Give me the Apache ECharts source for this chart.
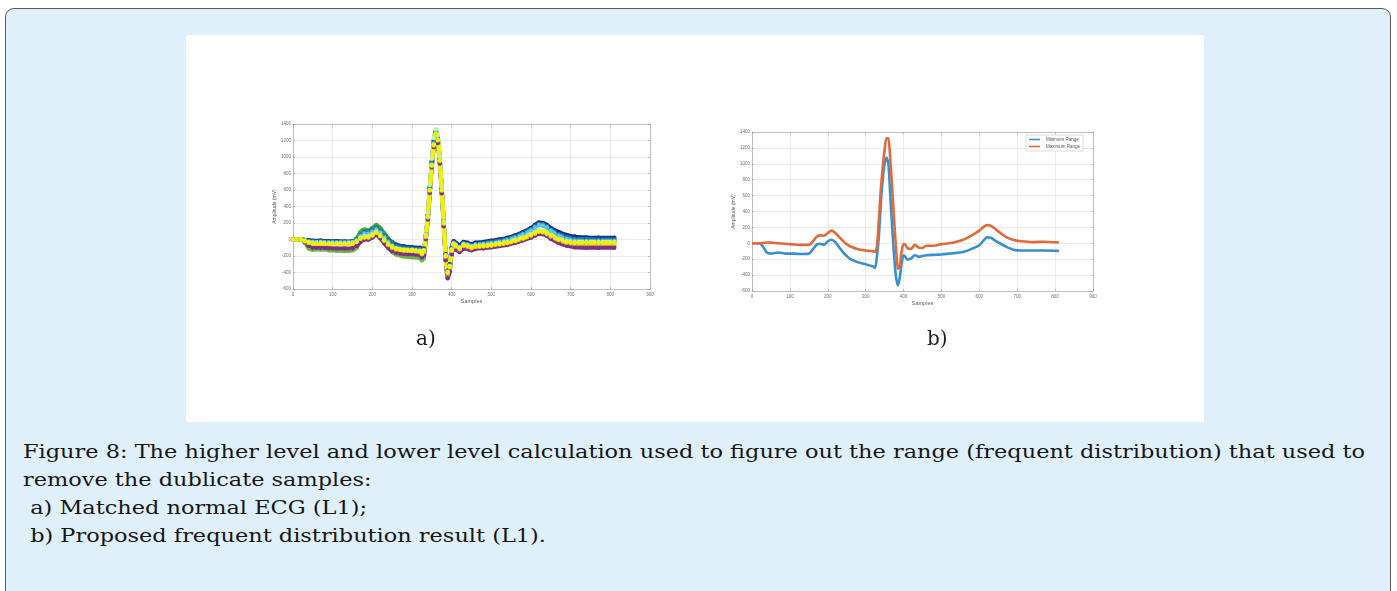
<!DOCTYPE html>
<html>
<head>
<meta charset="utf-8">
<script src="https://cdn.jsdelivr.net/npm/echarts@6/dist/echarts.min.js"></script>
<style>
  html, body { margin: 0; padding: 0; background: #fff; width: 1397px; height: 591px; overflow: hidden; }
  #frame { position: absolute; left: 5px; top: 8px; width: 1386px; height: 620px; background: #dff0fb;
           border: 1.5px solid #5c5c5c; border-radius: 9px; box-sizing: border-box; }
  #panel { position: absolute; left: 186px; top: 35px; width: 1018px; height: 387px; background: #fff; }
  #caption { position: absolute; left: 23px; top: 438px; font-family: "DejaVu Serif", serif; font-size: 18.5px;
             line-height: 28px; color: #161616; white-space: pre; transform-origin: 0 0; }
</style>
</head>
<body>
<div id="frame"></div>
<div id="panel"></div>
<div id="caption"><div id="cap1">Figure 8: The higher level and lower level calculation used to figure out the range (frequent distribution) that used to</div><div>remove the dublicate samples:</div><div> a) Matched normal ECG (L1);</div><div> b) Proposed frequent distribution result (L1).</div></div>
<script>
// Sample positions shared by every trace
const samples = [
  0, 20, 30, 40, 50, 70, 90, 110, 130, 150,
  160, 170, 180, 190, 200, 210, 220, 230, 240, 250,
  260, 280, 300, 320, 325, 330, 335, 340, 345, 350,
  355, 360, 365, 370, 375, 380, 385, 390, 395, 400,
  405, 410, 420, 430, 440, 450, 460, 480, 500, 520,
  540, 560, 580, 600, 610, 620, 630, 640, 650, 670,
  690, 710, 740, 770, 810
];

// a) matched normal ECG beats (mV)
const beatGreenLow = [
  0, 0, -40, -110, -125, -120, -130, -135, -140, -130,
  -100, -20, 10, 5, 30, 60, 20, -40, -100, -150,
  -180, -205, -215, -225, -250, -220, 0, 240, 560, 870,
  1120, 1250, 1180, 930, 570, 170, -230, -440, -360, -160,
  -90, -110, -140, -100, -110, -125, -110, -100, -90, -75,
  -60, -35, -5, 35, 60, 80, 75, 55, 25, -25,
  -60, -75, -80, -80, -80
];
const beatGreenHigh = [
  0, 0, -10, -25, -20, -15, -25, -30, -35, -25,
  10, 90, 120, 110, 140, 175, 140, 75, 15, -30,
  -60, -90, -105, -120, -160, -130, 40, 290, 620, 930,
  1180, 1300, 1230, 980, 620, 220, -180, -380, -310, -120,
  -40, -60, -90, -50, -60, -75, -60, -50, -40, -25,
  -5, 25, 65, 115, 150, 180, 175, 150, 110, 50,
  10, -10, -15, -15, -15
];
const beatPurple = [
  0, 0, -30, -80, -100, -100, -105, -110, -110, -105,
  -80, -30, 0, 0, 25, 55, 15, -45, -100, -140,
  -160, -175, -180, -190, -215, -190, 10, 250, 570, 880,
  1120, 1240, 1170, 920, 560, 160, -250, -470, -390, -180,
  -100, -120, -150, -110, -115, -130, -115, -105, -95, -80,
  -65, -40, -10, 25, 50, 70, 65, 45, 10, -40,
  -75, -95, -100, -100, -100
];
const beatNavy = [
  0, 0, -5, -10, -15, -15, -20, -20, -25, -20,
  0, 50, 90, 95, 115, 145, 110, 50, 0, -40,
  -65, -85, -95, -100, -130, -110, 60, 300, 640, 950,
  1200, 1310, 1230, 980, 620, 220, -180, -380, -300, -100,
  -20, -40, -70, -30, -40, -55, -40, -30, -15, 0,
  20, 50, 90, 140, 175, 205, 200, 175, 140, 90,
  55, 35, 25, 20, 20
];
const beatTeal = [
  0, 0, -5, -20, -25, -25, -30, -30, -30, -25,
  0, 60, 100, 100, 125, 150, 115, 55, 0, -45,
  -75, -100, -110, -115, -150, -120, 50, 290, 620, 930,
  1180, 1300, 1220, 970, 610, 210, -190, -390, -310, -110,
  -35, -55, -85, -45, -55, -70, -55, -45, -30, -15,
  5, 35, 75, 125, 160, 190, 185, 160, 120, 65,
  30, 10, 5, 0, 0
];
const beatCyan = [
  0, 0, -10, -25, -30, -30, -35, -35, -35, -30,
  -10, 40, 70, 70, 95, 120, 85, 25, -30, -75,
  -105, -130, -140, -150, -180, -150, 30, 270, 600, 910,
  1160, 1290, 1210, 960, 600, 200, -200, -400, -320, -120,
  -45, -65, -95, -55, -65, -80, -65, -55, -45, -30,
  -10, 20, 60, 110, 145, 175, 170, 145, 105, 45,
  5, -15, -20, -20, -20
];
const beatOrange = [
  0, 0, -15, -35, -45, -45, -50, -50, -50, -45,
  -25, 15, 30, 30, 55, 80, 40, -15, -65, -100,
  -120, -135, -140, -150, -175, -150, 30, 270, 590, 890,
  1140, 1270, 1200, 950, 590, 190, -210, -410, -340, -140,
  -70, -90, -120, -80, -90, -105, -90, -85, -75, -60,
  -45, -20, 10, 45, 70, 90, 85, 65, 35, -10,
  -40, -50, -50, -50, -50
];
const beatLime = [
  0, 0, -15, -30, -40, -40, -45, -45, -45, -40,
  -20, 20, 40, 40, 65, 95, 55, 0, -50, -85,
  -105, -120, -125, -135, -160, -130, 60, 320, 660, 980,
  1230, 1335, 1260, 1000, 630, 220, -190, -390, -320, -120,
  -50, -70, -100, -60, -70, -90, -75, -70, -60, -45,
  -30, -5, 25, 65, 90, 110, 105, 85, 55, 10,
  -20, -30, -30, -30, -30
];
const beatYellow = [
  0, 0, -20, -40, -50, -50, -55, -55, -55, -50,
  -30, 10, 25, 25, 50, 85, 45, -10, -60, -95,
  -115, -130, -135, -145, -170, -140, 40, 280, 600, 900,
  1150, 1280, 1210, 960, 600, 200, -200, -400, -330, -130,
  -60, -80, -110, -70, -80, -100, -85, -80, -70, -55,
  -40, -15, 15, 55, 80, 100, 95, 75, 45, 0,
  -30, -40, -40, -40, -40
];

// b) frequent distribution bounds (mV)
const minimumRange = [
  0, 0, -50, -120, -130, -115, -130, -130, -135, -130,
  -80, -20, -5, -20, 25, 45, 15, -50, -110, -160,
  -200, -240, -265, -290, -310, -150, 100, 500, 800, 1000,
  1080, 1000, 600, 200, -150, -420, -530, -430, -250, -150,
  -170, -205, -190, -150, -170, -160, -150, -145, -140, -130,
  -120, -105, -70, -25, 30, 75, 70, 40, 10, -40,
  -80, -90, -90, -90, -95
];
const maximumRange = [
  0, 0, 5, 10, 8, 0, -5, -15, -20, -20,
  20, 80, 100, 95, 130, 160, 130, 80, 30, -10,
  -40, -75, -90, -100, -110, -30, 300, 680, 950, 1180,
  1320, 1320, 1050, 700, 300, -50, -320, -280, -100, -10,
  -20, -60, -70, -20, -55, -60, -30, -30, -10, 0,
  20, 50, 100, 160, 200, 230, 220, 190, 150, 80,
  40, 25, 15, 20, 10
];

const xTicks = { min: 0, max: 900, interval: 100 };
const yTicks = { min: -600, max: 1400, interval: 200 };

const beatsA = [
  ['beat 1', '#6cb83a', beatGreenLow],
  ['beat 2', '#4aab2a', beatGreenHigh],
  ['beat 3', '#7d2e8f', beatPurple],
  ['beat 4', '#1c2a8c', beatNavy],
  ['beat 5', '#1f7fa8', beatTeal],
  ['beat 6', '#5bc8ea', beatCyan],
  ['beat 7', '#e3a030', beatOrange],
  ['beat 8', '#c4f39a', beatLime],
  ['beat 9', '#f2f200', beatYellow]
];
const boundsB = [
  ['Minimum Range', '#3a8fd0', minimumRange],
  ['Maximum Range', '#e2693a', maximumRange]
];

const pairs = arr => samples.map((s, i) => [s, arr[i]]);

const sansFont = 'Liberation Sans, Arial, sans-serif';
const labelFont = { fontSize: 4.5, color: '#707070', fontFamily: sansFont, formatter: v => String(v) };
const edgeLine = { show: true, onZero: false, lineStyle: { color: '#bdbdbd', width: 1 } };
const tickIn = { show: true, inside: true, length: 2, lineStyle: { color: '#9a9a9a', width: 0.6 } };
const gridLine = { show: true, lineStyle: { color: '#e6e6e6', width: 0.8 } };

function xAxes(gi) {
  return [
    { type: 'value', gridIndex: gi, ...xTicks, position: 'bottom',
      axisLine: edgeLine, axisTick: tickIn,
      axisLabel: { ...labelFont, margin: 3 }, splitLine: gridLine,
      name: 'Samples', nameLocation: 'middle', nameGap: 9,
      nameTextStyle: { fontSize: 5.5, color: '#606060', fontFamily: sansFont } },
    { type: 'value', gridIndex: gi, ...xTicks, position: 'top',
      axisLine: edgeLine, axisTick: tickIn, axisLabel: { show: false }, splitLine: { show: false } }
  ];
}
function yAxes(gi) {
  return [
    { type: 'value', gridIndex: gi, ...yTicks, position: 'left',
      axisLine: edgeLine, axisTick: tickIn,
      axisLabel: { ...labelFont, margin: 2 }, splitLine: gridLine,
      name: 'Amplitude (mV)', nameLocation: 'middle', nameGap: 15, nameRotate: 90,
      nameTextStyle: { fontSize: 5, color: '#606060', fontFamily: sansFont } },
    { type: 'value', gridIndex: gi, ...yTicks, position: 'right',
      axisLine: edgeLine, axisTick: tickIn, axisLabel: { show: false }, splitLine: { show: false } }
  ];
}

const series = [];
beatsA.forEach(([name, color, arr]) => {
  series.push({
    name, type: 'line', xAxisIndex: 0, yAxisIndex: 0, data: pairs(arr),
    smooth: 0.25, symbol: 'circle', symbolSize: 4.5, showSymbol: true,
    lineStyle: { color, width: 4 }, itemStyle: { color }, silent: true, animation: false
  });
});
boundsB.forEach(([name, color, arr]) => {
  series.push({
    name, type: 'line', xAxisIndex: 2, yAxisIndex: 2, data: pairs(arr),
    smooth: 0.25, showSymbol: false,
    lineStyle: { color, width: 2.6 }, itemStyle: { color }, silent: true, animation: false
  });
});

const chart = echarts.init(document.getElementById('panel'), null, { renderer: 'canvas' });
chart.setOption({
  animation: false,
  backgroundColor: '#ffffff',
  grid: [
    { left: 107, top: 89, width: 357, height: 165 },
    { left: 566, top: 97, width: 341, height: 159 }
  ],
  xAxis: [...xAxes(0), ...xAxes(1)],
  yAxis: [...yAxes(0), ...yAxes(1)],
  legend: {
    data: boundsB.map(b => b[0]),
    orient: 'vertical', right: 121, top: 100,
    icon: 'rect', itemWidth: 11, itemHeight: 1.6, itemGap: 2,
    padding: [2, 3], borderColor: '#c8c8c8', borderWidth: 0.6, backgroundColor: '#ffffff',
    textStyle: { fontSize: 4.5, color: '#555', fontFamily: sansFont, padding: [0, 0, 0, 1] }
  },
  graphic: [
    { type: 'text', left: 230, top: 295, style: { text: 'a)', font: '20px "DejaVu Serif", serif', fill: '#1e1e1e' } },
    { type: 'text', left: 741, top: 295, style: { text: 'b)', font: '20px "DejaVu Serif", serif', fill: '#1e1e1e' } }
  ],
  series
});

// stretch the caption block horizontally so its first line reaches the right margin
(function fitCaption() {
  const cap = document.getElementById('caption');
  const first = document.getElementById('cap1');
  const range = document.createRange();
  range.selectNodeContents(first);
  const w = range.getBoundingClientRect().width;
  cap.style.transform = 'scaleX(' + (1342 / w).toFixed(4) + ')';
})();
</script>
</body>
</html>
